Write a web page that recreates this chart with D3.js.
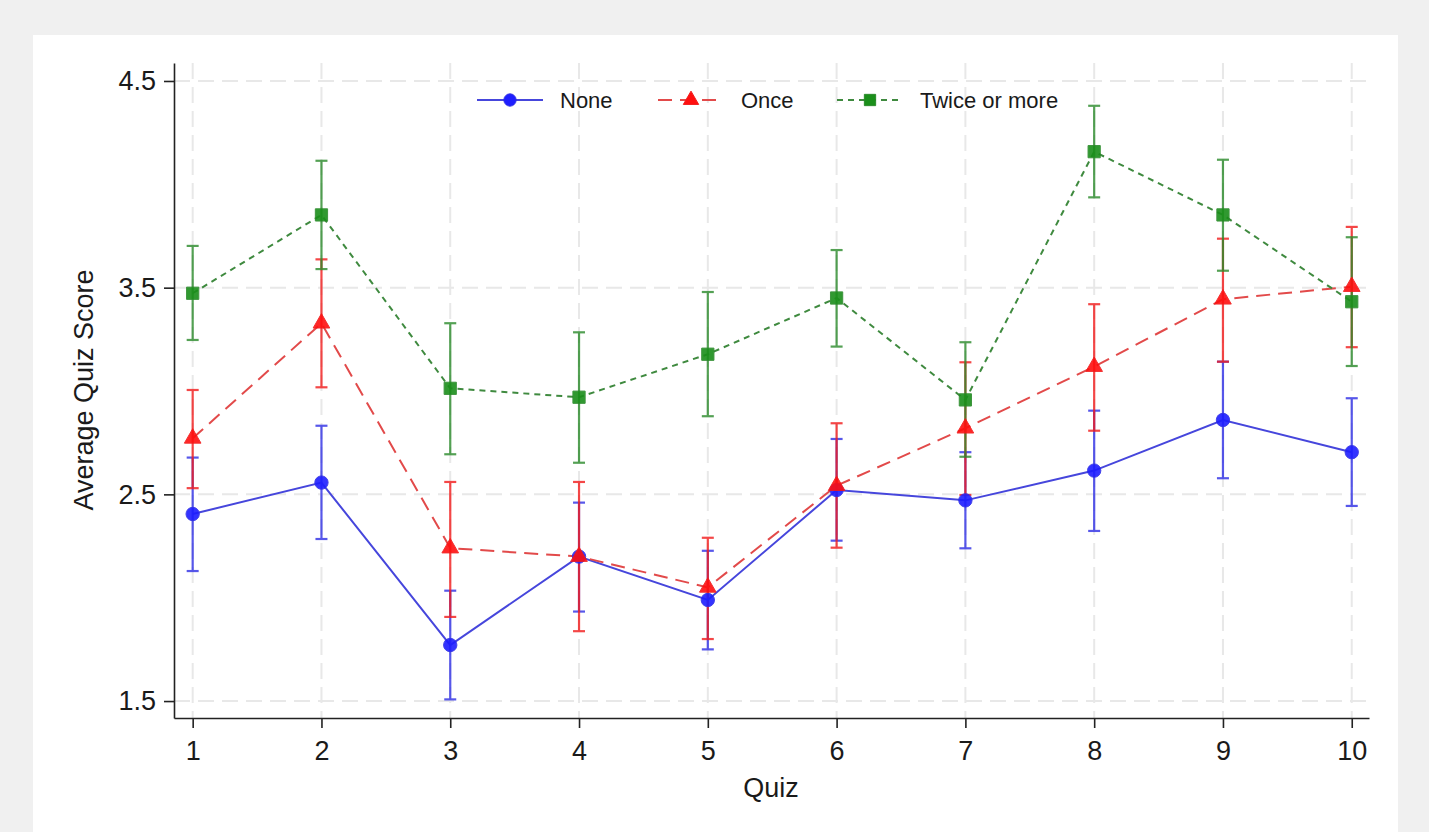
<!DOCTYPE html>
<html>
<head>
<meta charset="utf-8">
<script src="https://cdn.jsdelivr.net/npm/d3@7"></script>
<style>
	body { margin: 0; background: #f0f0f0; font-family: 'Liberation Sans', Arial, sans-serif; }
	svg { display: block; }
</style>
</head>
<body>
<svg id="chart" width="1429" height="832"></svg>
<script>
let quizzes = [1, 2, 3, 4, 5, 6, 7, 8, 9, 10];
let yTicks = [1.5, 2.5, 3.5, 4.5];

let noneMean = [2.405, 2.557, 1.771, 2.199, 1.989, 2.521, 2.471, 2.615, 2.860, 2.704];
let noneLo = [2.129, 2.284, 1.508, 1.933, 1.750, 2.276, 2.239, 2.323, 2.578, 2.444];
let noneHi = [2.678, 2.832, 2.034, 2.460, 2.227, 2.768, 2.704, 2.905, 3.142, 2.965];

let onceMean = [2.771, 3.328, 2.240, 2.199, 2.050, 2.542, 2.820, 3.118, 3.444, 3.505];
let onceLo = [2.530, 3.018, 1.907, 1.838, 1.800, 2.242, 2.497, 2.808, 3.142, 3.212];
let onceHi = [3.005, 3.637, 2.560, 2.560, 2.290, 2.844, 3.139, 3.420, 3.737, 3.794];

let twiceMean = [3.473, 3.852, 3.013, 2.970, 3.178, 3.450, 2.957, 4.158, 3.852, 3.432];
let twiceLo = [3.247, 3.590, 2.694, 2.653, 2.878, 3.215, 2.682, 3.937, 3.582, 3.121];
let twiceHi = [3.702, 4.114, 3.328, 3.284, 3.479, 3.682, 3.236, 4.380, 4.119, 3.744];

let seriesNames = ['None', 'Once', 'Twice or more'];

function init() {
	let svg = d3.select('#chart');

	// white panel on gray page
	svg.append('rect').attr('x', 33).attr('y', 35).attr('width', 1365).attr('height', 800).style('fill', 'white');

	let x = d3.scaleLinear().domain([0.855, 10.134]).range([174, 1369]);
	let y = d3.scaleLinear().domain([1.418, 4.587]).range([718, 63]);

	// grid
	let grid = svg.append('g').style('stroke', '#e8e8e8').style('stroke-width', 2).style('stroke-dasharray', '16,8');
	grid.selectAll('line.h').data(yTicks).join('line').attr('class', 'h')
		.attr('x1', 174).attr('x2', 1369)
		.attr('y1', d => y(d)).attr('y2', d => y(d));
	grid.selectAll('line.v').data(quizzes).join('line').attr('class', 'v')
		.attr('x1', d => x(d)).attr('x2', d => x(d))
		.attr('y1', 63).attr('y2', 718);

	// axes
	svg.append('g').attr('transform', 'translate(174,0)')
		.call(d3.axisLeft(y).tickValues(yTicks).tickFormat(d3.format('.1f')).tickSize(10).tickSizeOuter(0).tickPadding(8));
	svg.append('g').attr('transform', 'translate(0,718)')
		.call(d3.axisBottom(x).tickValues(quizzes).tickFormat(d3.format('d')).tickSize(10).tickSizeOuter(0).tickPadding(13));
	svg.selectAll('.domain, .tick line').style('stroke', '#222').style('stroke-width', 1.6);
	svg.selectAll('.tick text').style('font-size', '27px').style('font-family', 'Liberation Sans, Arial, sans-serif').style('fill', '#1a1a1a');

	svg.append('text').attr('transform', 'translate(93,390) rotate(-90)').attr('text-anchor', 'middle')
		.style('font-size', '27px').style('fill', '#1a1a1a').text('Average Quiz Score');
	svg.append('text').attr('x', 771).attr('y', 797).attr('text-anchor', 'middle')
		.style('font-size', '27px').style('fill', '#1a1a1a').text('Quiz');

	let series = [
		{name: seriesNames[0], mean: noneMean, lo: noneLo, hi: noneHi, line: '#4646dc', bar: '#2e2ee6', fill: '#1e1eff', dash: null, sym: d3.symbolCircle, size: 140},
		{name: seriesNames[1], mean: onceMean, lo: onceLo, hi: onceHi, line: '#e24a4a', bar: '#f21a1a', fill: '#ff0f0f', dash: '14,8', sym: d3.symbolTriangle, size: 120},
		{name: seriesNames[2], mean: twiceMean, lo: twiceLo, hi: twiceHi, line: '#3f8a3f', bar: '#2a8a2a', fill: '#1a8f1a', dash: '6,5', sym: d3.symbolSquare, size: 150}
	];

	// error bars
	for (let s of series) {
		let g = svg.append('g').style('stroke', s.bar).style('stroke-width', 2.2).style('opacity', 0.8);
		g.selectAll('line.bar').data(quizzes).join('line').attr('class', 'bar')
			.attr('x1', d => x(d)).attr('x2', d => x(d))
			.attr('y1', (d, i) => y(s.lo[i])).attr('y2', (d, i) => y(s.hi[i]));
		g.selectAll('line.top').data(quizzes).join('line').attr('class', 'top')
			.attr('x1', d => x(d) - 6).attr('x2', d => x(d) + 6)
			.attr('y1', (d, i) => y(s.hi[i])).attr('y2', (d, i) => y(s.hi[i]));
		g.selectAll('line.bot').data(quizzes).join('line').attr('class', 'bot')
			.attr('x1', d => x(d) - 6).attr('x2', d => x(d) + 6)
			.attr('y1', (d, i) => y(s.lo[i])).attr('y2', (d, i) => y(s.lo[i]));
	}

	// lines and markers
	let lineFn = d3.line().x((d, i) => x(quizzes[i])).y(d => y(d));
	for (let s of series) {
		svg.append('path').attr('d', lineFn(s.mean))
			.style('fill', 'none').style('stroke', s.line).style('stroke-width', 2)
			.style('stroke-dasharray', s.dash);
	}
	for (let s of series) {
		svg.append('g').selectAll('path').data(s.mean).join('path')
			.attr('transform', (d, i) => 'translate(' + x(quizzes[i]) + ',' + y(d) + ')')
			.attr('d', d3.symbol().type(s.sym).size(s.size))
			.style('fill', s.fill).style('stroke', s.bar).style('stroke-width', 1).style('opacity', 0.9);
	}

	// legend
	let lx = [477, 658, 837];
	let legend = svg.append('g').selectAll('g').data(series).join('g')
		.attr('transform', (d, i) => 'translate(' + lx[i] + ',100)');
	legend.append('line').attr('x1', 0).attr('x2', 66).attr('y1', 0).attr('y2', 0)
		.style('stroke', d => d.line).style('stroke-width', 2).style('stroke-dasharray', d => d.dash);
	legend.append('path').attr('transform', 'translate(33,0)')
		.attr('d', d => d3.symbol().type(d.sym).size(d.size * 0.85)())
		.style('fill', d => d.fill).style('stroke', d => d.bar);
	legend.append('text').attr('x', 83).attr('y', 8)
		.style('font-size', '22px').style('fill', '#1a1a1a').text(d => d.name);
}

init();
</script>
</body>
</html>
